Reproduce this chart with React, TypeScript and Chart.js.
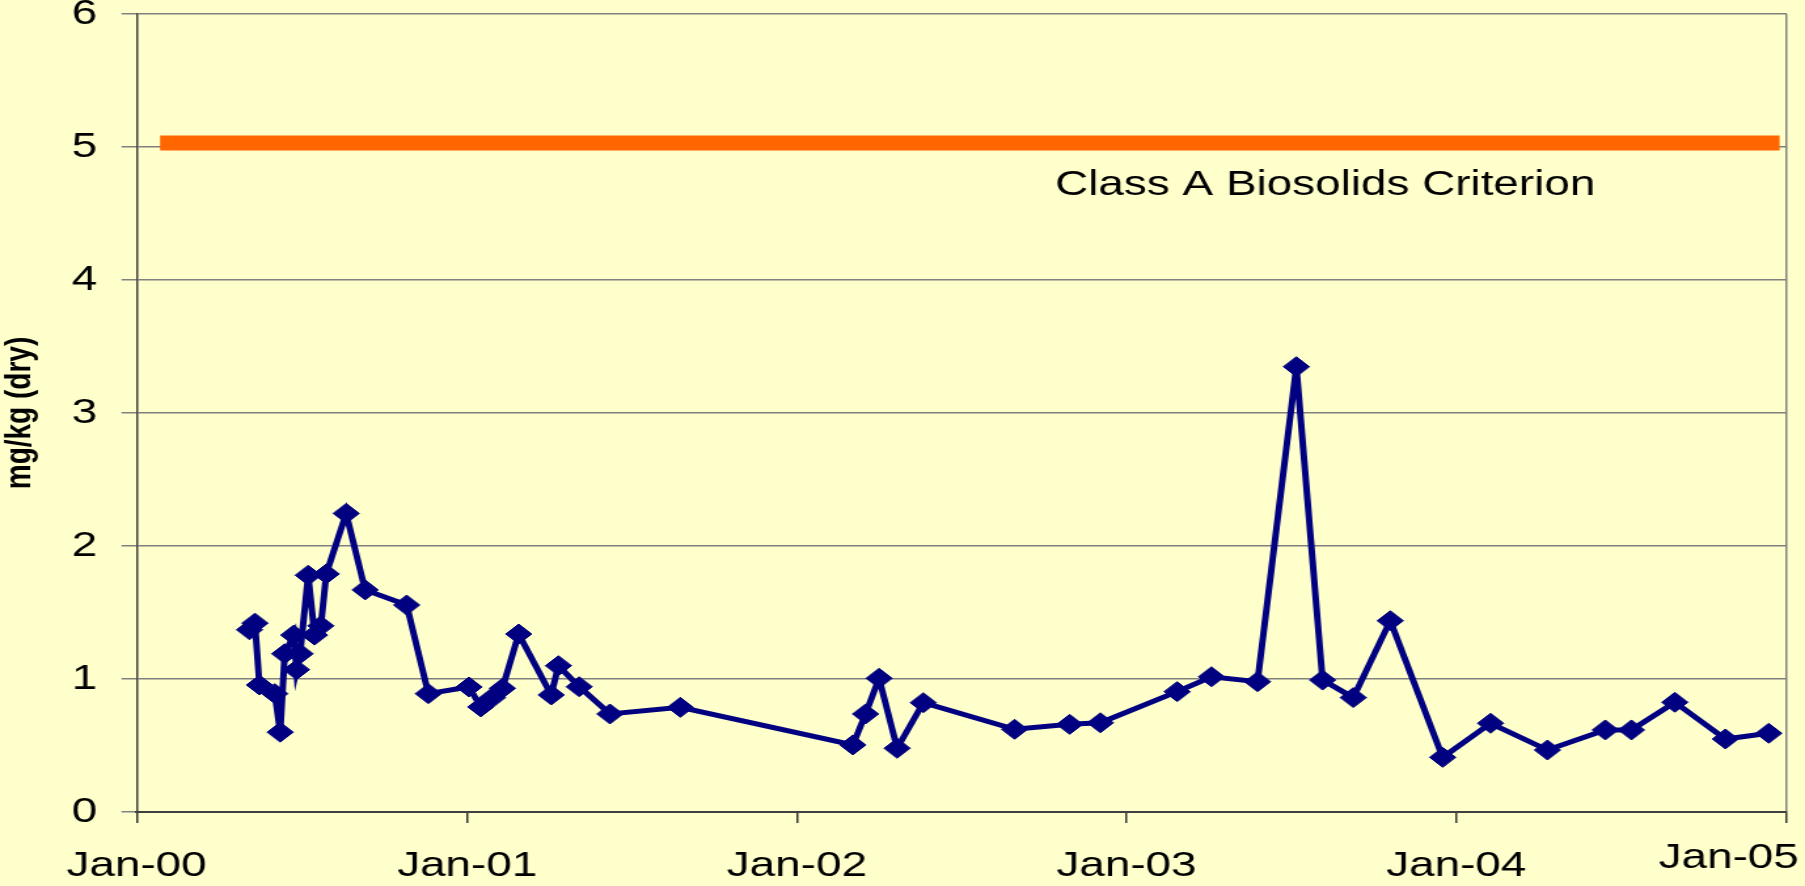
import React, { useEffect, useRef } from "react";
import { Chart, registerables } from "chart.js";

Chart.register(...registerables);

// ---- data -------------------------------------------------------------
const SAMPLE_DATES = [
  "2000-05-05", "2000-05-11", "2000-05-16", "2000-06-02", "2000-06-08",
  "2000-06-13", "2000-06-23", "2000-06-26", "2000-06-30", "2000-07-09",
  "2000-07-16", "2000-07-23", "2000-07-29", "2000-08-20", "2000-09-10",
  "2000-10-26", "2000-11-19",
  "2001-01-03", "2001-01-16", "2001-01-29", "2001-02-09", "2001-02-27",
  "2001-04-04", "2001-04-12", "2001-05-05", "2001-06-08", "2001-08-25",
  "2002-03-04", "2002-03-18", "2002-04-02", "2002-04-22", "2002-05-21",
  "2002-08-30", "2002-10-30", "2002-12-03",
  "2003-02-26", "2003-04-05", "2003-05-26", "2003-07-08", "2003-08-06",
  "2003-09-09", "2003-10-20", "2003-12-17",
  "2004-02-08", "2004-04-11", "2004-06-14", "2004-07-13", "2004-08-30",
  "2004-10-25", "2004-12-12",
];
const SAMPLE_VALUES = [
  1.37, 1.42, 0.955, 0.89, 0.60,
  1.19, 1.33, 1.07, 1.19, 1.78,
  1.33, 1.40, 1.79, 2.245, 1.67,
  1.556, 0.89,
  0.94, 0.79, 0.86, 0.93, 1.338,
  0.88, 1.10, 0.942, 0.737, 0.787,
  0.504, 0.737, 1.005, 0.479, 0.822,
  0.622, 0.659, 0.671,
  0.905, 1.017, 0.98, 3.348, 0.992,
  0.86, 1.438, 0.411,
  0.667, 0.466, 0.617, 0.617, 0.825,
  0.549, 0.592,
];

const CRITERION_DATES = ["2000-01-27", "2004-12-24"];
const CRITERION_VALUES = [5.03, 5.03];
const CRITERION_LABEL = "Class A Biosolids Criterion";
const CRITERION_LABEL_AT = { date: "2002-10-14", value: 4.64 };

const X_TICK_DATES = [
  "2000-01-01", "2001-01-01", "2002-01-01",
  "2003-01-01", "2004-01-01", "2005-01-01",
];
const X_TICK_LABELS = ["Jan-00", "Jan-01", "Jan-02", "Jan-03", "Jan-04", "Jan-05"];
const Y_MIN = 0;
const Y_MAX = 6;
const Y_STEP = 1;
const Y_TITLE = "mg/kg (dry)";

// ---- helpers ------------------------------------------------------------
const EPOCH = Date.parse(X_TICK_DATES[0]);
const dayOf = (s: string) => (Date.parse(s) - EPOCH) / 86400000;

const FULL_W = 1805;
const FULL_H = 886;
const SX = 1.31; // the original picture is stretched horizontally
const W = Math.round(FULL_W / SX);
const H = FULL_H;

const BG = "#FFFFCC";
const FONT = '"Liberation Sans", Arial, Helvetica, sans-serif';

const labelPlugin = {
  id: "criterionLabel",
  beforeDraw(chart: any) {
    // nudge the last x label inside the canvas (as in the original)
    const xs = chart.scales.x;
    const items = xs.getLabelItems();
    if (items && items.length) {
      const last = items[items.length - 1];
      last.options.textAlign = "right";
      last.options.translation = [
        last.options.translation[0] + 12 / SX,
        last.options.translation[1] - 8,
      ];
    }
  },
  afterDatasetsDraw(chart: any) {
    const { ctx, scales } = chart;
    const x = scales.x.getPixelForValue(dayOf(CRITERION_LABEL_AT.date));
    const y = scales.y.getPixelForValue(CRITERION_LABEL_AT.value);
    ctx.save();
    ctx.font = `35px ${FONT}`;
    ctx.fillStyle = "#000000";
    ctx.textAlign = "left";
    ctx.textBaseline = "alphabetic";
    ctx.fillText(CRITERION_LABEL, x, y);
    ctx.restore();
  },
};

export default function App() {
  const ref = useRef<HTMLCanvasElement>(null);

  useEffect(() => {
    if (!ref.current) return;
    const tickValues = X_TICK_DATES.map(dayOf);
    const chart = new Chart(ref.current, {
      type: "line",
      data: {
        datasets: [
          {
            label: "Samples",
            data: SAMPLE_DATES.map((d, i) => ({ x: dayOf(d), y: SAMPLE_VALUES[i] })),
            borderColor: "#000080",
            backgroundColor: "#000080",
            borderWidth: 5,
            pointStyle: "rectRot",
            pointRadius: 10,
            pointBorderWidth: 1,
            pointBackgroundColor: "#000080",
            pointBorderColor: "#000080",
            tension: 0,
            fill: false,
          },
          {
            label: CRITERION_LABEL,
            data: CRITERION_DATES.map((d, i) => ({ x: dayOf(d), y: CRITERION_VALUES[i] })),
            borderColor: "#FF6600",
            borderWidth: 15,
            borderCapStyle: "butt",
            pointRadius: 0,
            fill: false,
          },
        ],
      },
      options: {
        animation: false,
        responsive: false,
        maintainAspectRatio: false,
        devicePixelRatio: 1,
        layout: { padding: { left: 0, right: W - 1787 / SX, top: 14, bottom: 0 } },
        plugins: {
          legend: { display: false },
          tooltip: { enabled: false },
        },
        scales: {
          x: {
            type: "linear",
            min: tickValues[0],
            max: tickValues[tickValues.length - 1],
            afterBuildTicks: (scale: any) => {
              scale.ticks = tickValues.map((v) => ({ value: v }));
            },
            afterFit: (scale: any) => {
              scale.height = FULL_H - 812;
              scale.paddingLeft = 0;
              scale.paddingRight = 0;
            },
            ticks: {
              autoSkip: false,
              maxRotation: 0,
              minRotation: 0,
              padding: 22,
              color: "#000000",
              font: { family: FONT, size: 35 },
              callback: (v: any) => {
                const i = tickValues.indexOf(Number(v));
                return i >= 0 ? X_TICK_LABELS[i] : "";
              },
            },
            grid: {
              drawOnChartArea: true,
              color: (c: any) =>
                c.index === tickValues.length - 1 ? "#808080" : "rgba(0,0,0,0)",
              tickColor: "#333333",
              tickLength: 11,
              lineWidth: 1.5,
            },
            border: { display: true, color: "#404040", width: 2 },
          },
          y: {
            type: "linear",
            min: Y_MIN,
            max: Y_MAX,
            afterFit: (scale: any) => {
              scale.width = 136.6 / SX;
              scale.paddingTop = 0;
              scale.paddingBottom = 0;
            },
            ticks: {
              stepSize: Y_STEP,
              padding: 18.5,
              color: "#000000",
              font: { family: FONT, size: 35 },
            },
            grid: {
              color: (c: any) => (c.tick && c.tick.value === Y_MIN ? "rgba(0,0,0,0)" : "#808080"),
              tickColor: "#808080",
              tickLength: 11.5,
              lineWidth: 1.5,
            },
            border: { display: true, color: "#404040", width: 1.5 },
            title: {
              display: true,
              text: Y_TITLE,
              color: "#000000",
              font: { family: FONT, size: 28, weight: "bold", lineHeight: 1.1 },
              padding: { top: 0, bottom: 0 },
            },
          },
        },
      },
      plugins: [labelPlugin],
    } as any);
    return () => chart.destroy();
  }, []);

  return (
    <div
      style={{
        position: "fixed",
        left: 0,
        top: 0,
        width: FULL_W,
        height: FULL_H,
        background: BG,
        overflow: "hidden",
      }}
    >
      <div
        style={{
          width: W,
          height: H,
          transform: `scaleX(${FULL_W / W})`,
          transformOrigin: "0 0",
        }}
      >
        <canvas ref={ref} width={W} height={H} style={{ display: "block", width: W, height: H }} />
      </div>
    </div>
  );
}
